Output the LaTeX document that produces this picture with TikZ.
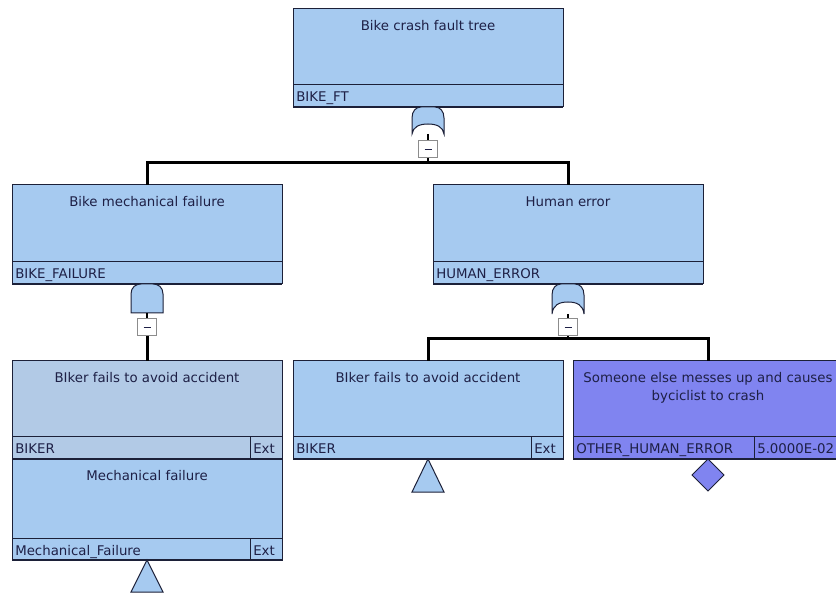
\documentclass[tikz,border=0pt]{standalone}
\usepackage{fontspec}
\setmainfont{DejaVu Sans}
\usetikzlibrary{calc}

\definecolor{evfill}{RGB}{166,202,240}
\definecolor{extfill}{RGB}{178,202,230}
\definecolor{basicfill}{RGB}{128,132,240}
\definecolor{edge}{RGB}{28,32,56}
\definecolor{ink}{RGB}{30,32,70}

\tikzset{
  evbox/.style={rectangle, draw=edge, line width=0.75pt, minimum width=202.5pt,
    minimum height=73.5pt, anchor=north west, inner sep=0pt, outer sep=0pt},
  rowline/.style={draw=edge, line width=0.75pt},
  bottomrule/.style={draw=edge, line width=1.6pt},
  evtitle/.style={font=\fontsize{10}{13.5}\selectfont, text=ink, align=center,
    inner sep=0pt, anchor=north},
  evid/.style={font=\fontsize{10}{12}\selectfont, text=ink, inner sep=0pt,
    anchor=base west},
  gatebox/.style={rectangle, minimum width=24pt, inner sep=0pt, outer sep=0pt,
    anchor=north},
  gateline/.style={draw=edge, line width=0.75pt, fill=evfill},
  minusbox/.style={rectangle, draw=black!45, fill=white, line width=0.6pt,
    minimum width=14.25pt, minimum height=12.75pt, inner sep=0pt, anchor=north,
    path picture={\draw[line width=0.9pt, ink]
      ($(path picture bounding box.center)+(-3.5,0.5)$) -- ++(7,0);}},
  conn/.style={draw=black, line width=2.25pt},
  stem/.style={draw=black, line width=1pt},
}

% event box: [options] name, top-left corner, fill, description, identifier
% (the first line of the description gets a fixed 9pt height so that its
% baseline always sits 21px below the top edge)
\newcommand\ftevent[6][]{%
  \node[evbox, fill=#4, #1] (#2) at #3 {};
  \draw[rowline] ($(#2.south west)+(0,-22)$) -- ($(#2.south east)+(0,-22)$);
  \draw[bottomrule] (#2.south west) -- (#2.south east);
  \node[evtitle] (#2-title) at ($(#2.north)+(0,9)$) {\rule{0pt}{9pt}#5};
  \node[evid] (#2-id) at ($(#2.south west)+(3,-5)$) {#6};
}
% right-hand cell of the identifier row: box, name, width, text
\newcommand\ftcell[4]{%
  \coordinate (#2) at ($(#1.south east)+(-#3,0)$);
  \draw[rowline] (#2) -- ++(0,-22);
  \node[evid] (#2-text) at ($(#2)+(3,-5)$) {#4};
}
% OR gate outline (local px, y downwards): height, height of the hollow base
\newcommand\orgate[2]{%
  \draw[gateline] (-16,#1) -- (-16,11) .. controls (-16,4) and (-12,0) .. (-7,0)
    -- (7,0) .. controls (12,0) and (16,4) .. (16,11) -- (16,#1)
    .. controls (15,#2+3) and (9,#2) .. (0,#2)
    .. controls (-9,#2) and (-15,#2+3) .. (-16,#1) -- cycle;}
% AND gate outline (local px, y downwards): height
\newcommand\andgate[1]{%
  \draw[gateline] (-16,#1) -- (-16,10) .. controls (-16,3) and (-11,0) .. (-6,0)
    -- (6,0) .. controls (11,0) and (16,3) .. (16,10) -- (16,#1) -- cycle;}

\begin{document}
\begin{tikzpicture}[x=0.75pt, y=-0.75pt]
\useasboundingbox (0,0) rectangle (836,595);

% ---- events ----
\ftevent{top}{(293,9)}{evfill}{Bike crash fault tree}{BIKE\_FT}
\ftevent[minimum height=74.25pt]{bmf}{(12,185)}{evfill}{Bike mechanical failure}{BIKE\_FAILURE}
\ftevent[minimum height=74.25pt]{he}{(433,185)}{evfill}{Human error}{HUMAN\_ERROR}

\ftevent[minimum height=75.75pt]{mech}{(12,459)}{evfill}{Mechanical failure}{Mechanical\_Failure}
\ftcell{mech}{mech-ext}{32}{Ext}
\ftevent{bikerA}{(12,361)}{extfill}{BIker fails to avoid accident}{BIKER}
\ftcell{bikerA}{bikerA-ext}{32}{Ext}

\ftevent{bikerB}{(293,361)}{evfill}{BIker fails to avoid accident}{BIKER}
\ftcell{bikerB}{bikerB-ext}{32}{Ext}

\ftevent{other}{(573,361)}{basicfill}{Someone else messes up and causes\\byciclist to crash}{OTHER\_HUMAN\_ERROR}
\ftcell{other}{other-val}{89}{5.0000E-02}

% ---- top OR gate ----
\node[gatebox, minimum height=20.25pt] (gTop) at (top.south) {};
\begin{scope}[shift={(gTop.north)}] \orgate{27}{17} \end{scope}
\node[minusbox] (mTop) at ($(gTop.south)+(0,6)$) {};
\draw[stem] (gTop.south) -- (mTop.north);
\coordinate (barTop) at ($(mTop.south)+(0,4.5)$);
\draw[stem] (mTop.south) -- (barTop);
\draw[conn] (bmf.north) |- (barTop) -| (he.north);

% ---- AND gate under the mechanical failure ----
\node[gatebox, minimum height=21.75pt] (gBmf) at (bmf.south) {};
\begin{scope}[shift={(gBmf.north)}] \andgate{29} \end{scope}
\node[minusbox] (mBmf) at ($(gBmf.south)+(0,5)$) {};
\draw[stem] (gBmf.south) -- (mBmf.north);
\draw[conn] (mBmf.south) -- (bikerA.north);

% ---- OR gate under human error ----
\node[gatebox, minimum height=22.5pt] (gHe) at (he.south) {};
\begin{scope}[shift={(gHe.north)}] \orgate{30}{18} \end{scope}
\node[minusbox] (mHe) at ($(gHe.south)+(0,4)$) {};
\draw[stem] (gHe.south) -- (mHe.north);
\coordinate (barHe) at ($(mHe.south)+(0,3)$);
\draw[stem] (mHe.south) -- (barHe);
\draw[conn] (bikerB.north) |- (barHe) -| (other.north);

% ---- transfer triangles and undeveloped-event diamond ----
\begin{scope}[shift={(mech.south)}]
  \draw[gateline] (0,0) -- (16,32) -- (-16,32) -- cycle;
\end{scope}
\begin{scope}[shift={(bikerB.south)}]
  \draw[gateline] (0,0) -- (16,33) -- (-16,33) -- cycle;
\end{scope}
\begin{scope}[shift={(other.south)}]
  \draw[gateline, fill=basicfill] (0,0) -- (16,16) -- (0,32) -- (-16,16) -- cycle;
\end{scope}
\end{tikzpicture}
\end{document}
